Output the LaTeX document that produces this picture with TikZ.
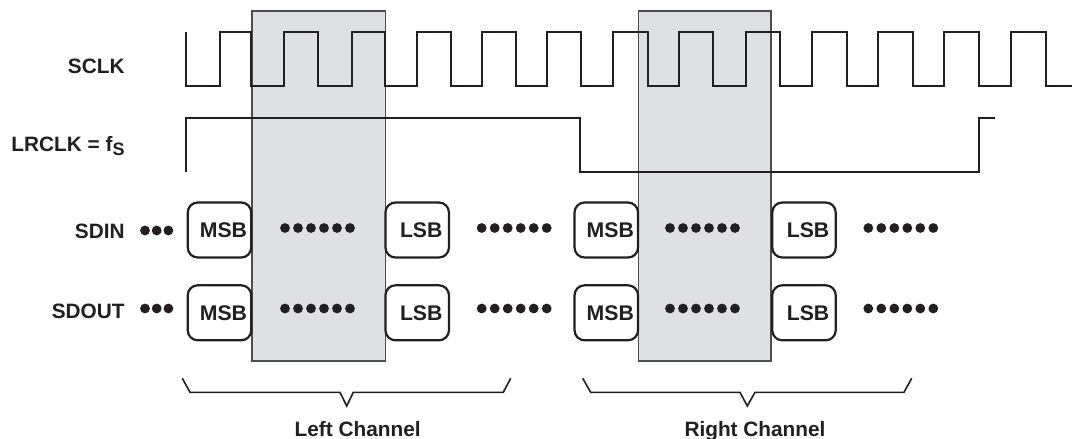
\documentclass[tikz,border=0pt]{standalone}
\usepackage{fontspec}
\setmainfont{Liberation Sans}
\usetikzlibrary{positioning, calc}
\definecolor{colorline}{HTML}{231F20}
\definecolor{colorshade}{HTML}{DFE0E2}
\definecolor{colorframe}{HTML}{4D4D4D}

\begin{document}
\begin{tikzpicture}[
    % one unit is one pixel of the drawing, y grows downwards
    x=0.5pt, y=-0.5pt,
    % clock and frame traces
    wave/.style={
        draw=colorline,
        line width=1.15pt,
        line join=miter
    },
    % shaded time windows
    window/.style={
        fill=colorshade,
        draw=colorframe,
        line width=0.7pt
    },
    % rounded boxes for the data bits
    bitbox/.style={
        rectangle,
        draw=colorline,
        fill=white,
        rounded corners=5pt,
        line width=1.1pt,
        minimum width=31.75pt,
        minimum height=27.5pt,
        inner sep=0pt,
        text=colorline,
        execute at begin node=\hspace*{4pt},
        font=\fontsize{10.6}{12}\selectfont\bfseries
    },
    % signal names on the left
    siglabel/.style={
        anchor=base east,
        inner sep=0pt,
        text=colorline,
        font=\fontsize{10.4}{12}\selectfont\bfseries
    },
    % channel names under the braces
    chlabel/.style={
        anchor=base,
        inner sep=0pt,
        text=colorline,
        font=\fontsize{10.4}{12}\selectfont\bfseries
    },
    brace/.style={
        draw=colorline,
        line width=0.8pt,
        line join=miter
    },
    bit/.style={fill=colorline}
]
\useasboundingbox (0,0) rectangle (1072,439);

% ==============================
% Shaded windows
% ==============================
\draw[window] (252,11) rectangle (385.5,361);
\draw[window] (638.3,11) rectangle (771,361);

% ==============================
% Signal names
% ==============================
\node[siglabel] (sclklbl) at (125,73.3) {SCLK};
\node[siglabel] (lrclklbl) at (125,151) {LRCLK = f\raisebox{-2.2pt}{\fontsize{9}{10}\selectfont S}};
\node[siglabel] (sdinlbl) at (125,238.3) {SDIN};
\node[siglabel] (sdoutlbl) at (125,318.3) {SDOUT};

% ==============================
% SCLK and LRCLK traces
% ==============================
\draw[wave] (186,32) -- (186,86)
    foreach \r/\f in {220/251, 284/318, 352/385, 417/451, 482/516, 547/581,
                      613/648, 679/713, 746/780, 812/847, 878/913, 944/979, 1011/1046}
    { -- (\r,86) -- (\r,32) -- (\f,32) -- (\f,86) }
    -- (1072,86);

\draw[wave] (186,172) -- (186,118) -- (580,118) -- (580,172)
    -- (979,172) -- (979,118) -- (995,118);

% ==============================
% SDIN row
% ==============================
\node[bitbox] (inmsbL) at (219.5,230) {MSB};
\node[bitbox] (inlsbL) at (417.2,230) {LSB};
\node[bitbox] (inmsbR) at (606.3,230) {MSB};
\node[bitbox] (inlsbR) at (804,230) {LSB};

% ==============================
% SDOUT row
% ==============================
\node[bitbox, below=12.8pt of inmsbL] (outmsbL) {MSB};
\node[bitbox, below=12.8pt of inlsbL] (outlsbL) {LSB};
\node[bitbox, below=12.8pt of inmsbR] (outmsbR) {MSB};
\node[bitbox, below=12.8pt of inlsbR] (outlsbR) {LSB};

% ==============================
% Dot runs
% ==============================
\foreach \x/\y/\n/\s in {145/230.5/2/11.7, 285/228/5/13, 481.7/228/5/13, 670/228/5/13, 868.3/228/5/13,
                         145/308.5/2/11.7, 285/308.5/5/13, 481.7/308.5/5/13, 670/308.5/5/13, 868.3/308.5/5/13}
    \foreach \i in {0,...,\n}
        \fill[bit] (\x+\i*\s,\y) circle (4.9);

% ==============================
% Channel braces
% ==============================
\coordinate (lefttip) at (346.7,406);
\coordinate (righttip) at (747.3,406);

\draw[brace] (182.3,378.3) -- (190,392.3) -- (340,392.3) -- (lefttip)
    -- (353.3,392.3) -- (503.3,392.3) -- (510.7,378.3);
\draw[brace] (582.7,378.3) -- (590.7,392.3) -- (740,392.3) -- (righttip)
    -- (755,392.3) -- (904,392.3) -- (911.7,378.3);

\node[chlabel] (leftlbl) at (357.7,436) {Left Channel};
\node[chlabel] (rightlbl) at (755,436) {Right Channel};

\end{tikzpicture}
\end{document}
